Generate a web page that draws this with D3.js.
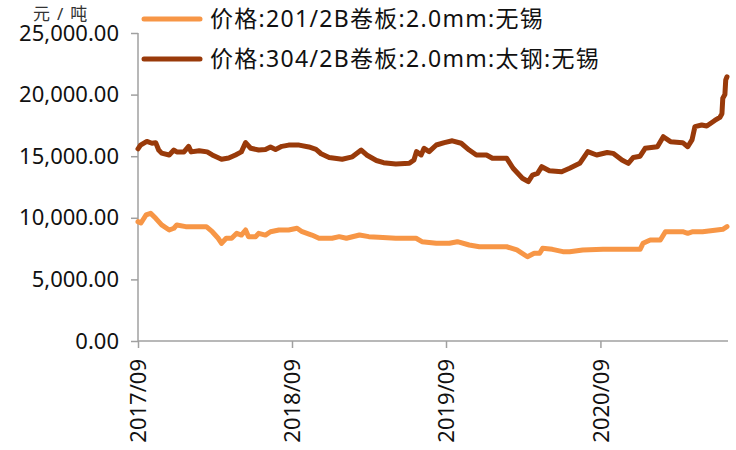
<!DOCTYPE html>
<html><head><meta charset="utf-8">
<script src="https://cdn.jsdelivr.net/npm/d3@7"></script>
<style>
html,body{margin:0;padding:0;background:#fff;}
svg{display:block;}
text{font-family:"Noto Sans","Noto Sans CJK SC",sans-serif;}
</style></head>
<body><svg id="c" width="736" height="450"></svg>
<script>
const seriesNames = ["价格:201/2B卷板:2.0mm:无锡", "价格:304/2B卷板:2.0mm:太钢:无锡"];
const unitLabel = "元/吨";
const yTicks = [0, 5000, 10000, 15000, 20000, 25000];
const xTickLabels = ["2017/09", "2018/09", "2019/09", "2020/09"];

const dates201 = ["2017-09-01","2017-09-08","2017-09-20","2017-10-01","2017-10-13","2017-10-27","2017-11-14","2017-11-25","2017-12-02","2017-12-23",
"2018-02-10","2018-02-24","2018-03-10","2018-03-18","2018-03-29","2018-04-11","2018-04-23","2018-05-04","2018-05-14","2018-05-21",
"2018-06-07","2018-06-14","2018-06-30","2018-07-12","2018-08-01","2018-08-24","2018-09-13","2018-09-25","2018-10-18","2018-11-04",
"2018-12-05","2018-12-22","2019-01-08","2019-02-08","2019-03-02","2019-03-25","2019-05-05","2019-06-22","2019-07-06","2019-08-09",
"2019-09-09","2019-09-28","2019-10-26","2019-11-19","2020-01-23","2020-02-16","2020-03-12","2020-03-28","2020-04-10","2020-04-17",
"2020-05-10","2020-06-04","2020-06-20","2020-07-21","2020-09-07","2020-12-04","2020-12-11","2020-12-28","2021-01-21","2021-02-02",
"2021-03-15","2021-03-27","2021-04-08","2021-05-01","2021-06-04","2021-06-18","2021-06-28"];
const values201 = [9690,9580,10230,10360,9960,9420,9010,9150,9420,9280,
9280,8870,8340,7930,8340,8340,8740,8600,9010,8470,
8470,8740,8600,8870,9010,9010,9150,8870,8600,8340,
8340,8470,8340,8600,8470,8420,8340,8340,8060,7930,
7930,8060,7790,7650,7650,7390,6840,7120,7120,7520,
7440,7250,7250,7390,7440,7440,7930,8200,8200,8870,
8870,8740,8870,8870,9010,9070,9280];

const dates304 = ["2017-09-01","2017-09-07","2017-09-22","2017-10-04","2017-10-13","2017-10-20","2017-10-27","2017-11-14","2017-11-25","2017-12-02",
"2017-12-19","2017-12-30","2018-01-05","2018-01-24","2018-02-12","2018-02-24","2018-03-18","2018-04-04","2018-04-20","2018-05-04",
"2018-05-14","2018-05-26","2018-06-14","2018-06-30","2018-07-12","2018-07-24","2018-08-08","2018-08-24","2018-09-18","2018-10-11",
"2018-10-28","2018-11-09","2018-11-28","2018-12-29","2019-01-22","2019-02-12","2019-02-25","2019-03-20","2019-04-06","2019-05-05",
"2019-06-06","2019-06-17","2019-06-23","2019-07-04","2019-07-11","2019-07-23","2019-08-09","2019-08-28","2019-09-16","2019-10-07",
"2019-10-26","2019-11-12","2019-12-06","2019-12-20","2020-01-23","2020-02-07","2020-02-29","2020-03-14","2020-03-24","2020-04-05",
"2020-04-15","2020-05-03","2020-06-01","2020-06-20","2020-07-14","2020-08-02","2020-08-23","2020-09-17","2020-10-01","2020-10-22",
"2020-11-06","2020-11-18","2020-12-04","2020-12-16","2021-01-14","2021-01-28","2021-02-14","2021-03-15","2021-03-27","2021-04-06",
"2021-04-13","2021-04-29","2021-05-11","2021-05-30","2021-06-11","2021-06-16","2021-06-18","2021-06-23","2021-06-25","2021-06-28"];
const values304 = [15600,15900,16200,16050,16100,15500,15250,15100,15500,15350,
15350,15800,15350,15450,15350,15100,14750,14850,15100,15350,
16100,15650,15500,15550,15750,15550,15800,15900,15900,15750,
15550,15200,14900,14750,14950,15500,15100,14650,14470,14370,
14420,14700,15370,15100,15640,15370,15910,16100,16250,16050,
15500,15100,15100,14830,14830,14020,13210,12930,13470,13610,
14150,13820,13740,14020,14420,15370,15100,15300,15230,14690,
14420,14900,15000,15640,15770,16580,16180,16100,15770,16320,
17400,17530,17450,17900,18150,18450,19700,20000,21190,21450];

const colors = ["#F79646", "#993A0A"];

const svg = d3.select("#c");
const parse = d3.timeParse("%Y-%m-%d");
const s201 = dates201.map((d,i)=>({date:parse(d), v:values201[i]}));
const s304 = dates304.map((d,i)=>({date:parse(d), v:values304[i]}));

const x0 = 138, x1 = 728, yTop = 33, yBot = 341;
const x = d3.scaleTime()
  .domain([parse("2017-09-01"), parse("2021-06-28")])
  .range([x0, 727]);
const y = d3.scaleLinear().domain([0, 25000]).range([yBot, yTop]);

const axisColor = "#A0A0A0";

// y axis
const yAxis = svg.append("g").attr("transform", `translate(${x0},0)`)
  .call(d3.axisLeft(y).tickValues(yTicks).tickSize(7).tickPadding(12)
    .tickFormat(d3.format(",.2f")));
yAxis.select(".domain").attr("stroke", axisColor).attr("stroke-width", 1.5).attr("d", `M0,${yTop}V${yBot}`);
yAxis.selectAll(".tick line").attr("stroke", axisColor).attr("stroke-width", 1.5);
yAxis.selectAll(".tick text").attr("font-size", 22).attr("fill", "#111")
  .attr("font-family", "'Noto Sans',sans-serif");

// x axis
const xTickDates = xTickLabels.map(s => d3.timeParse("%Y/%m")(s));
const xAxis = svg.append("g").attr("transform", `translate(0,${yBot})`)
  .call(d3.axisBottom(x).tickValues(xTickDates).tickSize(7)
    .tickFormat((d,i)=>xTickLabels[i]));
xAxis.select(".domain").attr("stroke", axisColor).attr("stroke-width", 1.5).attr("d", `M${x0},0H${x1}`);
xAxis.selectAll(".tick line").attr("stroke", axisColor).attr("stroke-width", 1.5);
xAxis.selectAll(".tick text")
  .attr("font-size", 22).attr("fill", "#111")
  .attr("font-family", "'Noto Sans',sans-serif")
  .attr("transform", "rotate(-90)")
  .attr("text-anchor", "end")
  .attr("dy", "0.35em")
  .attr("x", -18).attr("y", 0);

// lines
const line = d3.line().x(d=>x(d.date)).y(d=>y(d.v));
[s201, s304].forEach((s,i)=>{
  svg.append("path").datum(s)
    .attr("fill","none").attr("stroke", colors[i]).attr("stroke-width", 5)
    .attr("stroke-linejoin","round").attr("stroke-linecap","round")
    .attr("d", line);
});

// unit label
svg.append("text").attr("x", 33).attr("y", 20).attr("font-size", 17)
  .attr("fill", "#333").attr("font-family", "'Noto Sans CJK SC',sans-serif")
  .attr("letter-spacing", 7)
  .text(unitLabel);

// legend
const leg = svg.append("g");
seriesNames.forEach((n,i)=>{
  const ly = 19 + i*40;
  leg.append("line").attr("x1", 144).attr("x2", 200).attr("y1", ly).attr("y2", ly)
    .attr("stroke", colors[i]).attr("stroke-width", 5).attr("stroke-linecap","round");
  leg.append("text").attr("x", 210).attr("y", ly).attr("dy", "0.35em")
    .attr("font-size", 23).attr("fill", "#111")
    .attr("font-family", "'Noto Sans','Noto Sans CJK SC',sans-serif")
    .attr("letter-spacing", 1.3)
    .text(n);
});
</script></body></html>
